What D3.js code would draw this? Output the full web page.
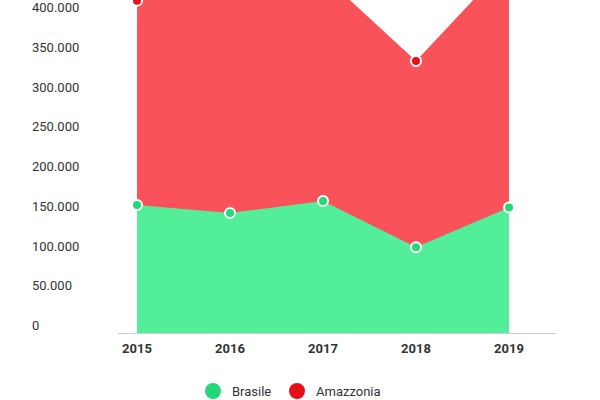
<!DOCTYPE html>
<html><head><meta charset="utf-8">
<script src="https://cdn.jsdelivr.net/npm/d3@7"></script>
<style>body{margin:0;background:#fff}text{font-family:Roboto,sans-serif}</style>
</head><body><svg id="c" width="600" height="400"></svg>
<script>
const years = ["2015", "2016", "2017", "2018", "2019"];
const brasile = [161000, 151000, 166000, 108000, 158000];
const amazzonia = [418000, 430000, 450000, 342000, 467000];
const yTicks = [0, 50000, 100000, 150000, 200000, 250000, 300000, 350000, 400000];

const svg = d3.select("#c");
const x = d3.scalePoint().domain(years).range([137, 509]);
const y = d3.scaleLinear().domain([0, 400000]).range([333, 15]);
const fmt = d3.formatLocale({decimal: ",", thousands: ".", grouping: [3], currency: ["", "€"]}).format(",");

svg.append("g").selectAll("text").data(yTicks).enter().append("text")
  .attr("x", 32).attr("y", d => y(d) - 3)
  .attr("font-size", 13).attr("fill", "#333").text(d => fmt(d));

const series = [
  {name: "Brasile", values: amazzonia, area: "#f9525a", dot: "#e3101a"},
  {name: "Amazzonia", values: brasile, area: "#52ee9a", dot: "#1fd874"}
];
// red behind, green in front
const layers = [
  {values: amazzonia, area: "#f9525a", dot: "#e3101a"},
  {values: brasile, area: "#52ee9a", dot: "#22d877"}
];
layers.forEach(s => {
  const area = d3.area().x((d, i) => x(years[i])).y0(y(0)).y1(d => y(d));
  svg.append("path").datum(s.values).attr("d", area).attr("fill", s.area);
});
svg.append("line").attr("x1", 118).attr("x2", 556).attr("y1", y(0) + 0.5).attr("y2", y(0) + 0.5)
  .attr("stroke", "#ccc");
layers.forEach(s => {
  svg.append("g").selectAll("circle").data(s.values).enter().append("circle")
    .attr("cx", (d, i) => x(years[i])).attr("cy", d => y(d)).attr("r", 5)
    .attr("fill", s.dot).attr("stroke", "#fff").attr("stroke-width", 2);
});

svg.append("g").selectAll("text").data(years).enter().append("text")
  .attr("x", d => x(d)).attr("y", 353).attr("text-anchor", "middle")
  .attr("font-size", 13).attr("font-weight", "bold").attr("fill", "#333").text(d => d);

const legend = [{label: "Brasile", color: "#22d877", x: 213}, {label: "Amazzonia", color: "#e3101a", x: 297}];
const lg = svg.append("g").selectAll("g").data(legend).enter().append("g")
  .attr("transform", d => `translate(${d.x},391)`);
lg.append("circle").attr("r", 8).attr("fill", d => d.color);
lg.append("text").attr("x", 19).attr("y", 5).attr("font-size", 13).attr("fill", "#333").text(d => d.label);
</script></body></html>
